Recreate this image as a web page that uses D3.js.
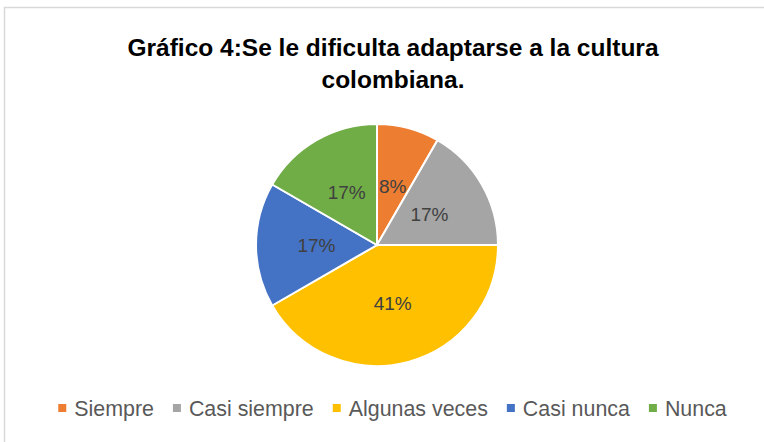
<!DOCTYPE html>
<html>
<head>
<meta charset="utf-8">
<style>
  body { margin: 0; background: #fff; }
  svg text { font-family: "Liberation Sans", Arial, sans-serif; }
</style>
</head>
<body>
<svg width="764" height="442"></svg>
<script src="https://cdn.jsdelivr.net/npm/d3@7"></script>
<script>

// data
var categories = ["Siempre", "Casi siempre", "Algunas veces", "Casi nunca", "Nunca"];
var shares = [1, 2, 5, 2, 2];                  // answers (pie angles)
var labels = ["8%", "17%", "41%", "17%", "17%"]; // labels as printed
var colors = ["#ED7D31", "#A5A5A5", "#FFC000", "#4472C4", "#70AD47"];
var titleLines = ["Gráfico 4:Se le dificulta adaptarse a la cultura", "colombiana."];

var svg = d3.select("svg"),
    cx = 377, cy = 245, radius = 121;

// chart frame (runs off the right/bottom edge)
svg.append("rect")
    .attr("x", 4.5).attr("y", 7.5)
    .attr("width", 800).attr("height", 500)
    .attr("fill", "#fff")
    .attr("stroke", "#d9d9d9")
    .attr("stroke-width", 1.5);

// title
svg.append("g").selectAll("text")
    .data(titleLines)
    .enter().append("text")
      .attr("x", 393)
      .attr("y", function(d, i) { return 56 + i * 32; })
      .attr("text-anchor", "middle")
      .attr("font-size", "24.5px")
      .attr("font-weight", "bold")
      .attr("fill", "#000")
      .text(function(d) { return d; });

var pie = d3.pie().sort(null).value(function(d) { return d; });
var arc = d3.arc().innerRadius(0).outerRadius(radius);

var g = svg.append("g").attr("transform", "translate(" + cx + "," + cy + ")");

var slices = g.selectAll(".slice")
    .data(pie(shares))
    .enter().append("g")
      .attr("class", "slice");

slices.append("path")
    .attr("d", arc)
    .attr("fill", function(d, i) { return colors[i]; })
    .attr("stroke", "#fff")
    .attr("stroke-width", 2);

slices.append("text")
    .attr("transform", function(d) { return "translate(" + arc.centroid(d) + ")"; })
    .attr("dy", "0.35em")
    .attr("text-anchor", "middle")
    .attr("font-size", "19px")
    .attr("fill", "#404040")
    .text(function(d, i) { return labels[i]; });

// legend, laid out from measured text widths and centred
var legend = svg.append("g");
var items = legend.selectAll(".legend")
    .data(categories)
    .enter().append("g")
      .attr("class", "legend");

items.append("rect")
    .attr("y", -4)
    .attr("width", 8).attr("height", 8)
    .attr("fill", function(d, i) { return colors[i]; });

items.append("text")
    .attr("x", 16)
    .attr("dy", "0.35em")
    .attr("font-size", "21.4px")
    .attr("fill", "#595959")
    .text(function(d) { return d; });

var pos = 0;
items.each(function() {
  var w = d3.select(this).select("text").node().getComputedTextLength();
  d3.select(this).attr("transform", "translate(" + pos + ",0)");
  pos += 16 + w + 19;
});
var total = pos - 19;
legend.attr("transform", "translate(" + (392.5 - total / 2) + ",408)");

</script>
</body>
</html>
